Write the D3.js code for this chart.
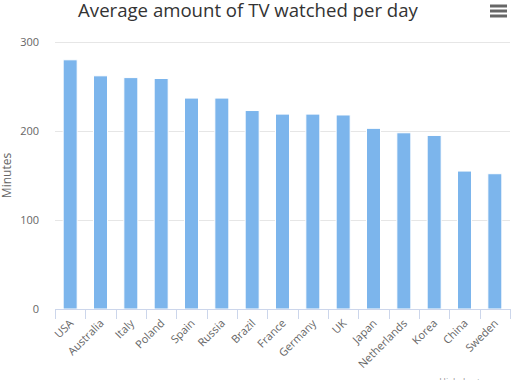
<!DOCTYPE html>
<html><head><meta charset="utf-8">
<script src="https://cdn.jsdelivr.net/npm/d3@7"></script>
<style>
html,body{margin:0;padding:0;background:#fff;}
svg{display:block;font-family:"Open Sans","DejaVu Sans",sans-serif;}
</style></head>
<body>
<svg id="chart" width="532" height="380"></svg>
<script>
const categories = ["USA","Australia","Italy","Poland","Spain","Russia","Brazil","France","Germany","UK","Japan","Netherlands","Korea","China","Sweden"];
const minutes = [280,262,260,259,237,237,223,219,219,218,203,198,195,155,152];
const yTicks = [0,100,200,300];
const titleText = "Average amount of TV watched per day";
const yTitle = "Minutes";

const W = 532, H = 380;
const m = {left:55, right:22, top:42, bottom:71};
const svg = d3.select("#chart");

const x = d3.scaleBand().domain(categories).range([m.left, W - m.right]).paddingInner(0).paddingOuter(0);
const y = d3.scaleLinear().domain([0,300]).range([H - m.bottom, m.top]);

// gridlines
svg.append("g").selectAll("line").data(yTicks).join("line")
  .attr("x1", m.left).attr("x2", W - m.right)
  .attr("y1", d => Math.round(y(d)) + 0.5).attr("y2", d => Math.round(y(d)) + 0.5)
  .attr("stroke", "#e6e6e6").attr("stroke-width", 1);

// y labels
const yAxis = d3.axisLeft(y).tickValues(yTicks).tickSize(0).tickPadding(0);
const gy = svg.append("g").attr("transform", `translate(${m.left - 16},0)`).call(yAxis);
gy.select(".domain").remove();
gy.selectAll("text").attr("fill", "#666").attr("font-size", "11px").attr("dy", "0.32em")
  .attr("font-family", "'Open Sans','DejaVu Sans',sans-serif");

// y title
svg.append("text")
  .attr("transform", `translate(11,${(y(0)+y(300))/2}) rotate(-90)`)
  .attr("text-anchor", "middle")
  .attr("fill", "#666").attr("font-size", "12px")
  .text(yTitle);

// bars
const bw = 14;
svg.append("g").selectAll("rect").data(categories).join("rect")
  .attr("x", d => x(d) + x.bandwidth()/2 - bw/2)
  .attr("y", (d,i) => y(minutes[i]))
  .attr("width", bw)
  .attr("height", (d,i) => y(0) - y(minutes[i]))
  .attr("fill", "#7cb5ec")
  .attr("stroke", "#ffffff").attr("stroke-width", 1);

// x axis
const xAxis = d3.axisBottom(x).tickSize(0).tickPadding(0);
const gx = svg.append("g").attr("transform", `translate(0,${y(0)})`).call(xAxis);
gx.select(".domain").attr("stroke", "#ccd6eb").attr("d", `M${m.left},0.5H${W - m.right}`);
// category boundary ticks
const bounds = categories.map(c => x(c)).concat([W - m.right]);
svg.append("g").selectAll("line").data(bounds).join("line")
  .attr("x1", d => Math.round(d) + 0.5).attr("x2", d => Math.round(d) + 0.5)
  .attr("y1", y(0)).attr("y2", y(0) + 10)
  .attr("stroke", "#ccd6eb");
gx.selectAll(".tick text")
  .attr("fill", "#666").attr("font-size", "11px")
  .attr("font-family", "'Open Sans','DejaVu Sans',sans-serif")
  .attr("text-anchor", "end")
  .attr("dy", null)
  .attr("transform", "translate(4,15) rotate(-45)");

// title
svg.append("text")
  .attr("x", 248).attr("y", 17)
  .attr("text-anchor", "middle")
  .attr("fill", "#333").attr("font-size", "18.6px")
  .text(titleText);

// menu icon
svg.append("g").selectAll("line").data([6,11,16]).join("line")
  .attr("x1", 490).attr("x2", 507).attr("y1", d => d).attr("y2", d => d)
  .attr("stroke", "#666").attr("stroke-width", 3);

// credits
svg.append("text")
  .attr("x", 505).attr("y", 385)
  .attr("text-anchor", "end")
  .attr("fill", "#999").attr("font-size", "9px")
  .text("Highcharts.com");
</script>
</body></html>
